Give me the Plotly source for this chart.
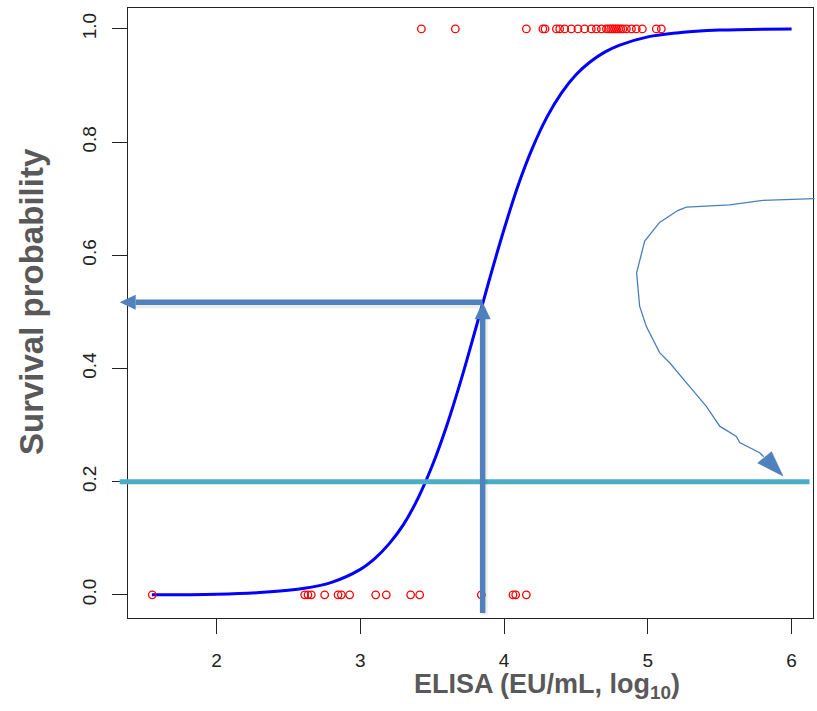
import plotly.graph_objects as go

# ---------------- data ----------------
# fitted survival curve
curve_x = [1.55, 2.0, 2.3, 2.6, 2.8, 3.0, 3.1, 3.2, 3.3, 3.4, 3.5, 3.6, 3.7, 3.8,
           3.9, 4.0, 4.1, 4.2, 4.3, 4.4, 4.5, 4.6, 4.7, 4.8, 5.0, 5.2, 5.5, 6.0]
curve_y = [0.000, 0.001, 0.004, 0.011, 0.022, 0.045, 0.064, 0.090, 0.124, 0.170,
           0.228, 0.298, 0.379, 0.468, 0.559, 0.646, 0.725, 0.791, 0.845, 0.887,
           0.919, 0.942, 0.959, 0.971, 0.986, 0.993, 0.998, 1.000]

# observed outcomes: survivors (1) and non-survivors (0)
survived_x = [3.425, 3.661, 4.155, 4.27, 4.285, 4.364, 4.387, 4.422, 4.468, 4.514,
              4.560, 4.607, 4.642, 4.677, 4.712, 4.728, 4.742, 4.755, 4.769, 4.783,
              4.797, 4.812, 4.827, 4.851, 4.886, 4.920, 4.962, 5.059, 5.094]
died_x = [1.553, 2.613, 2.636, 2.659, 2.752, 2.845, 2.868, 2.926, 3.107, 3.181,
          3.350, 3.413, 3.842, 4.062, 4.081, 4.155]

x_ticks = [2, 3, 4, 5, 6]
y_ticks = [0.0, 0.2, 0.4, 0.6, 0.8, 1.0]
y_tick_labels = ["0.0", "0.2", "0.4", "0.6", "0.8", "1.0"]

# reading guides (data units)
elisa_50 = 3.851          # ELISA at 50 % survival
p_50 = 0.517
p_threshold = 0.2
guide_left = 1.326        # arrow tips just outside the y axis
guide_right = 6.125
guide_bottom = -0.032

# hand-drawn pointer (data units)
pointer_x = [6.16, 5.799, 5.569, 5.268, 5.208, 5.082, 4.978, 4.922, 4.943, 4.990,
             5.082, 5.152, 5.291, 5.407, 5.500, 5.616, 5.639, 5.778, 5.806]
pointer_y = [0.700, 0.697, 0.689, 0.685, 0.679, 0.658, 0.625, 0.569, 0.510, 0.474,
             0.428, 0.410, 0.368, 0.333, 0.298, 0.280, 0.269, 0.251, 0.244]
pointer_head_x = [5.940, 5.764, 5.860]
pointer_head_y = [0.210, 0.233, 0.253]

X_RANGE = [1.384, 6.149]
Y_RANGE = [-0.041, 1.037]

# ---------------- figure ----------------
W, H = 817, 711
ML, MR, MT, MB = 128, 4, 8, 93
PW, PH = W - ML - MR, H - MT - MB


def px(x):
    return (x - X_RANGE[0]) / (X_RANGE[1] - X_RANGE[0])


def py(y):
    return (y - Y_RANGE[0]) / (Y_RANGE[1] - Y_RANGE[0])


fig = go.Figure()

fig.add_trace(go.Scatter(
    x=curve_x, y=curve_y, mode="lines", line=dict(color="#0000FF", width=3, shape="spline"),
    hoverinfo="skip", showlegend=False))

fig.add_trace(go.Scatter(
    x=survived_x, y=[1] * len(survived_x), mode="markers",
    marker=dict(symbol="circle-open", size=7.5, color="#FF0000", line=dict(width=1.3)),
    showlegend=False, cliponaxis=False))
fig.add_trace(go.Scatter(
    x=died_x, y=[0] * len(died_x), mode="markers",
    marker=dict(symbol="circle-open", size=7.5, color="#FF0000", line=dict(width=1.3)),
    showlegend=False, cliponaxis=False))

shapes = []
ARROW = "#4F81BD"
TEAL = "#4BACC6"
SHADOW = "rgba(0,0,0,0.07)"
dx1 = 1.0 / PW
dy1 = 1.0 / PH

# teal threshold line
shapes.append(dict(type="line", xref="paper", yref="paper",
                   x0=px(guide_left), x1=px(guide_right),
                   y0=py(p_threshold), y1=py(p_threshold),
                   line=dict(color=TEAL, width=5)))

# horizontal arrow (50 % read-off) with soft shadow
head_len, head_half = 16, 7.5
yh = py(p_50)
shapes.append(dict(type="line", xref="paper", yref="paper",
                   x0=px(guide_left) + head_len * dx1, x1=px(elisa_50),
                   y0=yh - 3 * dy1, y1=yh - 3 * dy1, line=dict(color=SHADOW, width=6)))
shapes.append(dict(type="line", xref="paper", yref="paper",
                   x0=px(guide_left) + head_len * dx1, x1=px(elisa_50),
                   y0=yh, y1=yh, line=dict(color=ARROW, width=5.5)))
tx = px(guide_left)
shapes.append(dict(type="path", xref="paper", yref="paper",
                   path=f"M {tx},{yh} L {tx + head_len * dx1},{yh + head_half * dy1} "
                        f"L {tx + head_len * dx1},{yh - head_half * dy1} Z",
                   fillcolor=ARROW, line=dict(width=0)))

# vertical arrow
xv = px(elisa_50)
shapes.append(dict(type="line", xref="paper", yref="paper",
                   x0=xv + 2 * dx1, x1=xv + 2 * dx1, y0=py(guide_bottom) - 2 * dy1,
                   y1=yh - head_len * dy1, line=dict(color=SHADOW, width=6)))
shapes.append(dict(type="line", xref="paper", yref="paper",
                   x0=xv, x1=xv, y0=py(guide_bottom), y1=yh - head_len * dy1,
                   line=dict(color=ARROW, width=5.5)))
shapes.append(dict(type="path", xref="paper", yref="paper",
                   path=f"M {xv},{yh} L {xv - 8 * dx1},{yh - 17 * dy1} "
                        f"L {xv + 8 * dx1},{yh - 17 * dy1} Z",
                   fillcolor=ARROW, line=dict(width=0)))

# hand-drawn curved pointer
pts = [f"{px(a)},{py(b)}" for a, b in zip(pointer_x, pointer_y)]
shapes.append(dict(type="path", xref="paper", yref="paper",
                   path="M " + " L ".join(pts),
                   line=dict(color="#4A7EBB", width=1.3)))
hp = [f"{px(a)},{py(b)}" for a, b in zip(pointer_head_x, pointer_head_y)]
shapes.append(dict(type="path", xref="paper", yref="paper",
                   path="M " + " L ".join(hp) + " Z",
                   fillcolor="#4F81BD", line=dict(color="#3C6EA8", width=0.5)))

annotations = [
    dict(text="ELISA (EU/mL, log<sub>10</sub>)", xref="paper", yref="paper",
         x=(547 - ML) / PW, y=-0.112, xanchor="center", yanchor="middle",
         showarrow=False,
         font=dict(family="Liberation Sans, Arial, sans-serif", size=27, color="#595959",
                   weight="bold")),
    dict(text="Survival probability", xref="paper", yref="paper",
         x=(31 - ML) / PW, y=0.518, xanchor="center", yanchor="middle", textangle=-90,
         showarrow=False,
         font=dict(family="Liberation Sans, Arial, sans-serif", size=33, color="#595959",
                   weight="bold")),
]

axis_common = dict(showline=True, linecolor="#222222", linewidth=1.4, mirror=True,
                   ticks="outside", ticklen=15, tickwidth=1.3, tickcolor="#222222",
                   showgrid=False, zeroline=False,
                   tickfont=dict(family="Liberation Sans, Arial, sans-serif", size=19,
                                 color="#222222"))

fig.update_layout(
    width=W, height=H,
    margin=dict(l=ML, r=MR, t=MT, b=MB),
    paper_bgcolor="white", plot_bgcolor="white",
    xaxis=dict(range=X_RANGE, tickvals=x_ticks, ticklabelstandoff=10, **axis_common),
    yaxis=dict(range=Y_RANGE, tickvals=y_ticks, ticktext=y_tick_labels, tickangle=-90,
               ticklabelstandoff=8, **axis_common),
    shapes=shapes,
    annotations=annotations,
    showlegend=False,
)

fig.write_html("out.html", config={"displayModeBar": False},
               post_script="document.body.style.margin='0';document.body.style.overflow='hidden';")
